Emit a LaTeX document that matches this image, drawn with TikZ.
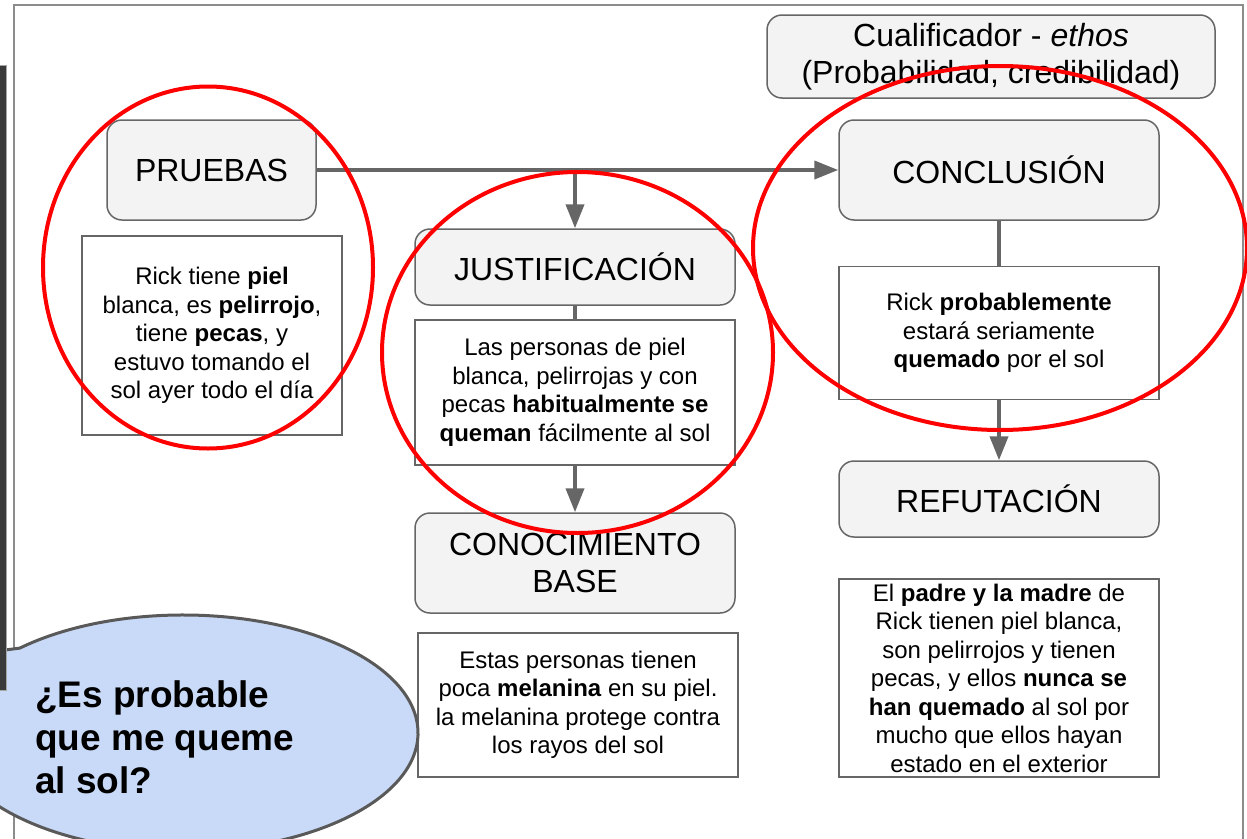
\documentclass[tikz,border=0pt]{standalone}
\usepackage{fontspec}
\setmainfont{Liberation Sans}
\usetikzlibrary{arrows.meta}
\definecolor{boxfill}{HTML}{F3F3F3}
\definecolor{boxline}{HTML}{666666}
\definecolor{arrowc}{HTML}{666666}
\definecolor{bubblefill}{HTML}{C9DAF8}
\definecolor{bubbleline}{HTML}{595959}
\definecolor{framec}{HTML}{8C8C8C}
\definecolor{stripc}{HTML}{3A3A3A}
\begin{document}
\begin{tikzpicture}[x=1pt,y=-1pt,
  titlebox/.style={draw=boxline, line width=1.5pt, fill=boxfill, rounded corners=15pt, inner sep=0pt, align=center, font=\fontsize{32}{37}\selectfont},
  textbox/.style={draw=boxline, line width=1.2pt, fill=white, inner sep=0pt, align=center, font=\fontsize{24}{28.5}\selectfont},
  flow/.style={draw=arrowc, line width=4pt, -{Triangle[length=24pt,width=18pt]}},
  plainline/.style={draw=arrowc, line width=4pt},
  redring/.style={draw=red, line width=4pt},
]
\useasboundingbox (0,0) rectangle (1247,838);
\clip (0,0) rectangle (1247,838);
\fill[white] (0,0) rectangle (1247,838);
% frame
\draw[framec, line width=1.5pt] (14,5) rectangle (1243,900);
% title boxes
\node[titlebox, minimum width=448pt, minimum height=83pt] (qual) at (991,56.5) {Cualificador - \textit{ethos}\\(Probabilidad, credibilidad)};
\node[titlebox, minimum width=209pt, minimum height=100pt] (pruebas) at (211.5,170) {PRUEBAS};
\node[titlebox, minimum width=320pt, minimum height=100pt] (concl) at (999,170) {CONCLUSIÓN};
\node[titlebox, minimum width=320pt, minimum height=76pt] (just) at (575,267) {JUSTIFICACIÓN};
\node[titlebox, minimum width=320pt, minimum height=100pt] (base) at (575,563) {CONOCIMIENTO\\BASE};
\node[titlebox, minimum width=320pt, minimum height=76pt] (refut) at (999,499) {REFUTACIÓN};
% text boxes
\node[textbox, minimum width=260pt, minimum height=199pt] (tpru) at (212,335.5) {Rick tiene \textbf{piel}\\blanca, es \textbf{pelirrojo},\\tiene \textbf{pecas}, y\\estuvo tomando el\\sol ayer todo el día};
\node[textbox, minimum width=320pt, minimum height=145pt] (tjust) at (575,392.5) {Las personas de piel\\blanca, pelirrojas y con\\pecas \textbf{habitualmente se}\\\textbf{queman} fácilmente al sol};
\node[textbox, minimum width=320pt, minimum height=144pt] (tbase) at (578,705) {Estas personas tienen\\poca \textbf{melanina} en su piel.\\la melanina protege contra\\los rayos del sol};
\node[textbox, minimum width=320pt, minimum height=133pt] (tconc) at (999,333) {Rick \textbf{probablemente}\\estará seriamente\\\textbf{quemado} por el sol};
\node[textbox, minimum width=320pt, minimum height=198pt] (tref) at (999,678) {El \textbf{padre y la madre} de\\Rick tienen piel blanca,\\son pelirrojos y tienen\\pecas, y ellos \textbf{nunca se}\\\textbf{han quemado} al sol por\\mucho que ellos hayan\\estado en el exterior};
% connectors
\coordinate (junc) at (575,170);
\draw[flow] (pruebas) -- (concl);
\draw[flow] (junc) -- (just);
\draw[plainline] (just) -- (tjust);
\draw[flow] (tjust) -- (base);
\draw[plainline] (concl) -- (tconc);
\draw[flow] (tconc) -- (refut);
% red annotation ellipses
\draw[redring] (208,267.5) ellipse [x radius=165pt, y radius=181pt];
\draw[redring] (577.5,352.5) ellipse [x radius=195.5pt, y radius=180.5pt];
\draw[redring] (1000,248) ellipse [x radius=247pt, y radius=182pt];
% speech bubble
\path[fill=bubblefill, draw=bubbleline, line width=3pt] (-10,652) -- (19.8,648.1) arc[start angle=134, end angle=-180, x radius=235pt, y radius=118pt];
\node[anchor=west, align=left, inner sep=0pt, font=\bfseries\fontsize{37}{43}\selectfont] (question) at (35,737) {¿Es probable\\que me queme\\al sol?};
% dark strip at left edge
\fill[stripc, draw=gray!70, line width=1pt] (-2,65) rectangle (6,690);
\end{tikzpicture}
\end{document}
